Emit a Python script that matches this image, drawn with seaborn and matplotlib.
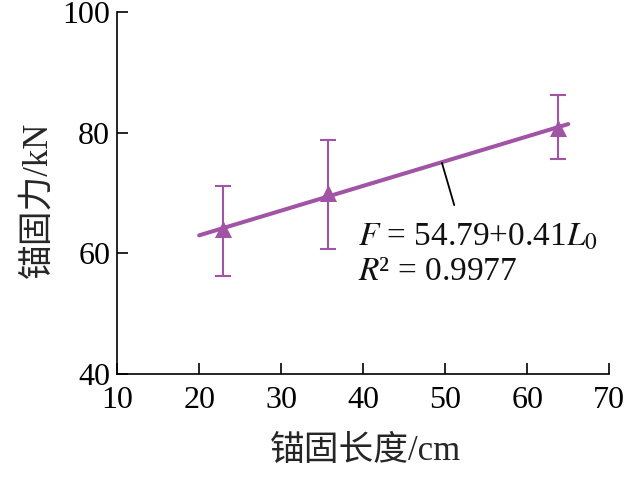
import matplotlib
matplotlib.use("Agg")
import matplotlib.pyplot as plt
import seaborn as sns
import pandas as pd

# Data
length_cm = [22.9, 35.7, 63.8]
force_kn = [64.0, 70.0, 80.8]
err_low = [56.3, 60.8, 75.7]
err_high = [71.2, 78.8, 86.2]
fit_x = [20, 65]
fit_y = [54.79 + 0.41 * 20, 54.79 + 0.41 * 65]
x_ticks = [10, 20, 30, 40, 50, 60, 70]
y_ticks = [40, 60, 80, 100]

purple = "#A153A6"

sns.set_theme(style="ticks")
plt.rcParams["font.family"] = ["Liberation Serif", "Noto Sans CJK SC", "DejaVu Sans"]
plt.rcParams["mathtext.fontset"] = "stix"

fig = plt.figure(figsize=(6.4, 4.78), dpi=100)
ax = fig.add_axes([0.183, 0.2176, 0.769, 0.757])

df_pts = pd.DataFrame({"x": length_cm, "y": force_kn})
df_fit = pd.DataFrame({"x": fit_x, "y": fit_y})

sns.lineplot(data=df_fit, x="x", y="y", ax=ax, color=purple, linewidth=2.9, zorder=3)

yerr = [[f - lo for f, lo in zip(force_kn, err_low)],
        [hi - f for f, hi in zip(force_kn, err_high)]]
ax.errorbar(length_cm, force_kn, yerr=yerr, fmt="none", ecolor=purple,
            elinewidth=1.5, capsize=6, capthick=1.5, zorder=2)
sns.scatterplot(data=df_pts, x="x", y="y", ax=ax, marker="^", s=150,
                color=purple, edgecolor=purple, linewidth=0, zorder=4)

# leader line for the equation
ax.plot([49.6, 51.1], [75.0, 68.0], color="black", linewidth=1.3, zorder=5)

ax.text(39.4, 62.7, r"$F$ = 54.79+0.41$L_0$", fontsize=24, va="center", ha="left",
        color="#111111")
ax.text(39.4, 57.0, r"$R$² = 0.9977", fontsize=24, va="center", ha="left",
        color="#111111")

ax.set_xlim(10, 70)
ax.set_ylim(40, 100)
ax.set_xticks(x_ticks)
ax.set_yticks(y_ticks)
ax.tick_params(axis="both", direction="in", length=8, width=1.2, labelsize=23,
               colors="black")
ax.tick_params(axis="x", pad=9)
ax.tick_params(axis="y", pad=5)

for s in ["top", "right"]:
    ax.spines[s].set_visible(False)
for s in ["left", "bottom"]:
    ax.spines[s].set_linewidth(1.2)
    ax.spines[s].set_color("black")

ax.set_xlabel("锚固长度/cm", fontsize=25)
ax.set_ylabel("锚固力/kN", fontsize=25)
ax.xaxis.set_label_coords(0.505, -0.215)
ax.yaxis.set_label_coords(-0.16, 0.48)
ax.xaxis.label.set_va("center")
ax.yaxis.label.set_va("center")

fig.savefig("out.png", dpi=100)
